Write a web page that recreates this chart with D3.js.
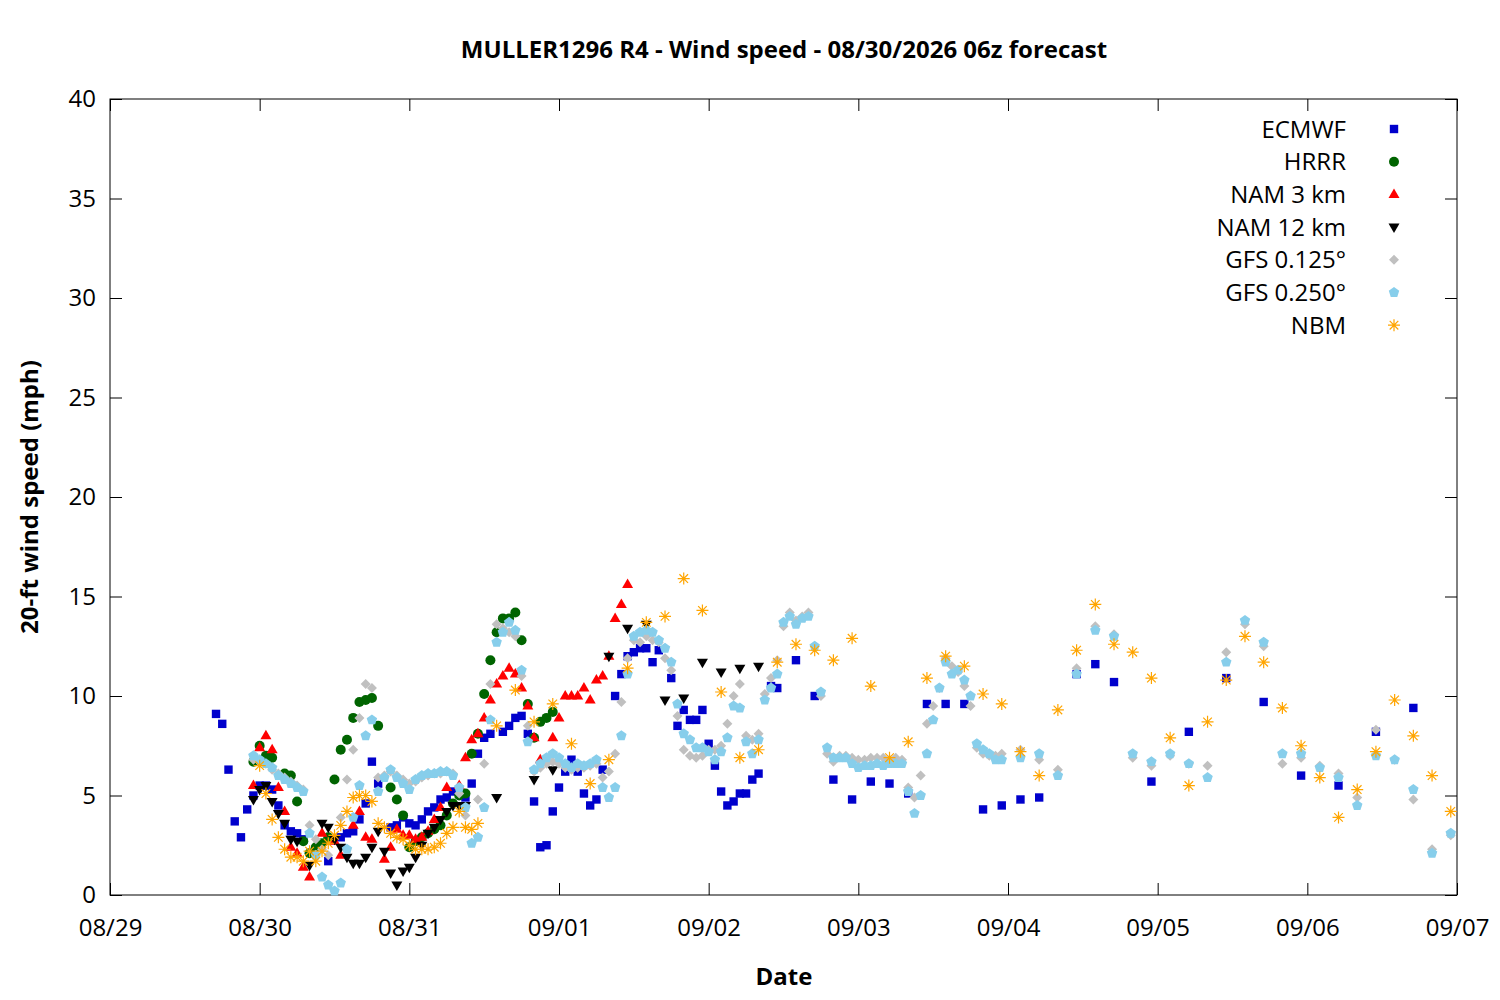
<!DOCTYPE html>
<html>
<head>
<meta charset="utf-8">
<script src="https://cdn.jsdelivr.net/npm/d3@7"></script>
<style>
  body { margin: 0; background: #fff; }
  text { font-family: "Open Sans", "Noto Sans", sans-serif; fill: #000; }
</style>
</head>
<body>
<div id="canvas"></div>
<script>
// hours after 08/29 00:00, wind speed in mph
const ecmwf = [[17,9.1],[18,8.6],[19,6.3],[20,3.7],[21,2.9],[22,4.3],[23,5.0],[24,5.5],[25,5.5],[26,5.3],[27,4.5],[28,3.5],[29,3.2],[30,3.1],[31,2.8],[35,1.7],[37,2.9],[38,3.1],[39,3.2],[40,3.8],[41,4.6],[42,6.7],[43,5.6],[45,3.4],[46,3.5],[47,3.9],[48,3.6],[49,3.5],[50,3.8],[51,4.2],[52,4.4],[53,4.8],[54,4.9],[55,5.2],[56,5.2],[57,4.9],[58,5.6],[59,7.1],[60,7.9],[61,8.1],[63,8.2],[64,8.5],[65,8.9],[66,9.0],[67,8.1],[68,4.7],[69,2.4],[70,2.5],[71,4.2],[72,5.4],[73,6.2],[74,6.8],[75,6.2],[76,5.1],[77,4.5],[78,4.8],[79,6.3],[81,10.0],[82,11.1],[83,12.0],[84,12.2],[85,12.4],[86,12.4],[87,11.7],[88,12.3],[90,10.9],[91,8.5],[92,9.3],[93,8.8],[94,8.8],[95,9.3],[96,7.6],[97,6.5],[98,5.2],[99,4.5],[100,4.7],[101,5.1],[102,5.1],[103,5.8],[104,6.1],[106,10.5],[107,10.4],[110,11.8],[113,10.0],[116,5.8],[119,4.8],[122,5.7],[125,5.6],[128,5.1],[131,9.6],[134,9.6],[137,9.6],[140,4.3],[143,4.5],[146,4.8],[149,4.9],[155,11.1],[158,11.6],[161,10.7],[167,5.7],[173,8.2],[179,10.9],[185,9.7],[191,6.0],[197,5.5],[203,8.2],[209,9.4]];

const hrrr = [[23,6.7],[24,7.5],[25,7.0],[26,6.9],[28,6.1],[29,6.0],[30,4.7],[31,2.7],[32,2.1],[33,2.4],[34,2.6],[35,2.9],[36,5.8],[37,7.3],[38,7.8],[39,8.9],[40,9.7],[41,9.8],[42,9.9],[43,8.5],[45,5.4],[46,4.8],[47,4.0],[48,2.4],[49,2.7],[50,2.9],[51,3.1],[52,3.3],[53,3.5],[54,4.0],[55,4.6],[56,5.0],[57,5.1],[58,7.1],[59,8.1],[60,10.1],[61,11.8],[62,13.2],[63,13.9],[64,13.9],[65,14.2],[66,12.8],[67,9.6],[68,7.9],[69,8.7],[70,8.9],[71,9.2]];

const nam3 = [[23,5.5],[24,7.4],[25,8.0],[26,7.3],[27,5.4],[28,4.2],[29,2.4],[30,2.1],[31,1.4],[32,0.9],[34,3.1],[36,2.7],[37,2.0],[39,3.5],[40,4.2],[41,2.9],[42,2.8],[44,1.8],[45,2.4],[46,3.3],[47,3.0],[48,3.0],[49,2.8],[50,2.9],[51,3.2],[52,3.8],[53,4.4],[54,5.4],[56,5.5],[57,6.9],[58,7.8],[59,8.1],[60,8.9],[61,9.8],[62,10.6],[63,11.0],[64,11.4],[65,11.1],[66,10.4],[67,9.5],[68,7.9],[69,6.8],[71,7.9],[72,8.9],[73,10.0],[74,10.0],[75,10.0],[76,10.4],[77,9.8],[78,10.8],[79,11.0],[80,12.0],[81,13.9],[82,14.6],[83,15.6]];

const nam12 = [[23,4.8],[24,5.3],[25,5.5],[26,4.7],[27,4.1],[28,3.6],[29,2.8],[30,2.7],[32,1.5],[34,3.6],[35,3.4],[36,2.8],[37,2.4],[38,1.9],[39,1.6],[40,1.6],[41,1.9],[42,2.4],[43,3.2],[44,2.2],[45,1.1],[46,0.5],[47,1.2],[48,1.4],[49,1.9],[50,2.5],[51,3.1],[52,3.4],[53,3.8],[54,4.2],[55,4.5],[56,4.5],[57,4.5],[62,4.9],[68,5.8],[71,6.3],[80,12.0],[83,13.4],[86,13.6],[89,9.8],[92,9.9],[95,11.7],[98,11.2],[101,11.4],[104,11.5]];

const gfs0125 = [[23,6.8],[24,6.7],[25,6.6],[26,6.3],[27,6.1],[28,5.9],[29,5.7],[30,5.5],[31,5.3],[32,3.5],[33,2.8],[34,2.3],[35,2.0],[37,3.9],[38,5.8],[39,7.3],[40,8.9],[41,10.6],[42,10.4],[43,5.9],[44,6.0],[45,6.2],[46,6.0],[47,5.8],[48,5.6],[49,5.7],[50,5.9],[51,6.0],[52,6.1],[53,6.1],[54,6.2],[55,6.1],[56,5.1],[57,4.0],[59,4.8],[60,6.6],[61,10.6],[62,13.6],[63,13.4],[64,13.2],[65,13.0],[66,11.0],[67,8.5],[68,6.2],[69,6.4],[70,6.6],[71,6.7],[72,6.6],[73,6.4],[74,6.3],[75,6.4],[76,6.4],[77,6.5],[78,6.6],[79,5.9],[80,6.2],[81,7.1],[82,9.7],[83,11.9],[84,12.8],[85,12.7],[86,13.0],[87,12.8],[88,12.7],[89,11.9],[90,11.3],[91,9.0],[92,7.3],[93,7.0],[94,6.9],[95,7.0],[96,7.3],[97,7.3],[98,7.5],[99,8.6],[100,10.0],[101,10.6],[102,8.0],[103,7.8],[104,8.1],[105,10.1],[106,10.9],[107,11.8],[108,13.5],[109,14.2],[110,13.8],[111,14.0],[112,14.2],[113,12.5],[114,10.0],[115,7.1],[116,6.7],[117,7.0],[118,7.0],[119,6.9],[120,6.8],[121,6.8],[122,6.9],[123,6.9],[124,6.9],[125,6.8],[126,6.9],[127,6.8],[128,5.4],[129,4.9],[130,6.0],[131,8.6],[132,9.5],[133,10.4],[134,11.9],[135,11.5],[136,11.2],[137,10.5],[138,9.5],[139,7.4],[140,7.1],[141,7.0],[142,7.0],[143,7.1],[146,7.3],[149,6.8],[152,6.3],[155,11.4],[158,13.5],[161,13.1],[164,6.9],[167,6.5],[170,7.0],[173,6.6],[176,6.5],[179,12.2],[182,13.6],[185,12.5],[188,6.6],[191,6.9],[194,6.5],[197,6.1],[200,4.9],[203,8.3],[206,6.8],[209,4.8],[212,2.3],[215,3.0]];

const gfs0250 = [[23,7.0],[24,6.8],[25,6.6],[26,6.4],[27,6.0],[28,5.8],[29,5.6],[30,5.4],[31,5.2],[32,3.1],[33,2.0],[34,0.9],[35,0.5],[36,0.2],[37,0.6],[38,2.3],[39,3.9],[40,5.5],[41,8.0],[42,8.8],[43,5.2],[44,5.9],[45,6.3],[46,5.9],[47,5.6],[48,5.3],[49,5.8],[50,6.0],[51,6.1],[52,6.1],[53,6.2],[54,6.2],[55,6.0],[56,5.4],[57,4.4],[58,2.6],[59,2.9],[60,4.4],[61,8.8],[62,12.7],[63,13.2],[64,13.7],[65,13.3],[66,11.3],[67,7.7],[68,6.3],[69,6.6],[70,6.9],[71,7.1],[72,6.9],[73,6.6],[74,6.4],[75,6.6],[76,6.5],[77,6.6],[78,6.8],[79,5.4],[80,4.9],[81,5.4],[82,8.0],[83,11.1],[84,13.0],[85,13.2],[86,13.3],[87,13.2],[88,12.8],[89,12.4],[90,11.7],[91,9.6],[92,8.1],[93,7.8],[94,7.4],[95,7.4],[96,7.2],[97,6.8],[98,7.2],[99,7.9],[100,9.5],[101,9.4],[102,7.7],[103,7.1],[104,7.8],[105,9.8],[106,10.4],[107,11.1],[108,13.7],[109,14.0],[110,13.6],[111,13.9],[112,14.0],[113,12.5],[114,10.2],[115,7.4],[116,6.9],[117,6.9],[118,6.9],[119,6.6],[120,6.4],[121,6.5],[122,6.5],[123,6.6],[124,6.5],[125,6.6],[126,6.6],[127,6.6],[128,5.2],[129,4.1],[130,5.0],[131,7.1],[132,8.8],[133,10.4],[134,11.7],[135,11.1],[136,11.3],[137,10.8],[138,10.0],[139,7.6],[140,7.3],[141,7.1],[142,6.8],[143,6.8],[146,6.9],[149,7.1],[152,6.0],[155,11.1],[158,13.3],[161,13.0],[164,7.1],[167,6.7],[170,7.1],[173,6.6],[176,5.9],[179,11.7],[182,13.8],[185,12.7],[188,7.1],[191,7.1],[194,6.4],[197,5.9],[200,4.5],[203,7.0],[206,6.8],[209,5.3],[212,2.1],[215,3.1]];

const nbm = [[24,6.5],[25,5.1],[26,3.8],[27,2.9],[28,2.3],[29,1.9],[30,1.9],[31,1.7],[32,2.2],[33,1.7],[34,2.2],[35,2.6],[36,3.0],[37,3.5],[38,4.2],[39,4.9],[40,5.0],[41,5.0],[42,4.7],[43,3.6],[44,3.4],[45,3.1],[46,2.9],[47,2.8],[48,2.5],[49,2.3],[50,2.3],[51,2.3],[52,2.4],[53,2.6],[54,3.1],[55,3.4],[56,4.2],[57,3.4],[58,3.3],[59,3.6],[62,8.5],[65,10.3],[68,8.7],[71,9.6],[74,7.6],[77,5.6],[80,6.8],[83,11.4],[86,13.7],[89,14.0],[92,15.9],[95,14.3],[98,10.2],[101,6.9],[104,7.3],[107,11.7],[110,12.6],[113,12.3],[116,11.8],[119,12.9],[122,10.5],[125,6.9],[128,7.7],[131,10.9],[134,12.0],[137,11.5],[140,10.1],[143,9.6],[146,7.2],[149,6.0],[152,9.3],[155,12.3],[158,14.6],[161,12.6],[164,12.2],[167,10.9],[170,7.9],[173,5.5],[176,8.7],[179,10.8],[182,13.0],[185,11.7],[188,9.4],[191,7.5],[194,5.9],[197,3.9],[200,5.3],[203,7.2],[206,9.8],[209,8.0],[212,6.0],[215,4.2]];

const models = ["ECMWF", "HRRR", "NAM 3 km", "NAM 12 km", "GFS 0.125°", "GFS 0.250°", "NBM"];
const modelData = [ecmwf, hrrr, nam3, nam12, gfs0125, gfs0250, nbm];
const dateTicks = ["08/29", "08/30", "08/31", "09/01", "09/02", "09/03", "09/04", "09/05", "09/06", "09/07"];
const yTicks = [0, 5, 10, 15, 20, 25, 30, 35, 40];

const colors = ["#0000cc", "#006400", "#ff0000", "#000000", "#c0c0c0", "#87ceeb", "#ffa500"];

// marker shapes, gnuplot style
function pentagon(r) {
  let p = "";
  for (let i = 0; i < 5; i++) {
    const a = -Math.PI / 2 + i * 2 * Math.PI / 5;
    p += (i ? "L" : "M") + (r * Math.cos(a)).toFixed(2) + "," + (r * Math.sin(a)).toFixed(2);
  }
  return p + "Z";
}
const shapes = [
  "M-4.2,-4.2H4.2V4.2H-4.2Z",
  "M5,0A5,5 0 1,1 -5,0A5,5 0 1,1 5,0Z",
  "M0,-6L5.5,3.5H-5.5Z",
  "M0,6L5.5,-3.5H-5.5Z",
  "M0,-5L5,0L0,5L-5,0Z",
  pentagon(5.5),
  "M-6,0H6M0,-6V6M-4.3,-4.3L4.3,4.3M4.3,-4.3L-4.3,4.3"
];

const fontSize = "24px";
const width = 1500;
const height = 1000;
const margin = { top: 99, left: 110, bottom: 105, right: 43 };
const iwidth = width - margin.left - margin.right;
const iheight = height - margin.top - margin.bottom;

const svg = d3.select("#canvas").append("svg")
  .attr("width", width)
  .attr("height", height);

const g = svg.append("g")
  .attr("transform", `translate(${margin.left},${margin.top})`);

const x = d3.scaleLinear().domain([0, 216]).range([0, iwidth]);
const y = d3.scaleLinear().domain([0, 40]).range([iheight, 0]);

const hourTicks = dateTicks.map((d, i) => i * 24);

// axes with inward ticks, mirrored on top and right
g.append("g")
  .attr("transform", `translate(0,${iheight})`)
  .call(d3.axisBottom(x).tickValues(hourTicks).tickSizeInner(-12).tickSizeOuter(0).tickPadding(24)
    .tickFormat((d, i) => dateTicks[i]))
  .call((a) => a.selectAll("text").style("font-size", fontSize));

g.append("g")
  .call(d3.axisTop(x).tickValues(hourTicks).tickSizeInner(-12).tickSizeOuter(0).tickFormat(""));

g.append("g")
  .call(d3.axisLeft(y).tickValues(yTicks).tickSizeInner(-12).tickSizeOuter(0).tickPadding(14))
  .call((a) => a.selectAll("text").style("font-size", fontSize));

g.append("g")
  .attr("transform", `translate(${iwidth},0)`)
  .call(d3.axisRight(y).tickValues(yTicks).tickSizeInner(-12).tickSizeOuter(0).tickFormat(""));

g.selectAll(".domain").remove();
g.selectAll(".tick line").attr("stroke", "#000");

g.append("rect")
  .attr("width", iwidth)
  .attr("height", iheight)
  .attr("fill", "none")
  .attr("stroke", "#000")
  .attr("stroke-width", 1);

// points, drawn in legend order so NBM ends on top
modelData.forEach((data, k) => {
  const isStar = k === 6;
  g.append("g")
    .selectAll("path")
    .data(data)
    .enter()
    .append("path")
    .attr("transform", (d) => `translate(${x(d[0])},${y(d[1])})`)
    .attr("d", shapes[k])
    .attr("fill", isStar ? "none" : colors[k])
    .attr("stroke", isStar ? colors[k] : "none")
    .attr("stroke-width", 1.2);
});

// legend
const legend = svg.append("g");
models.forEach((name, k) => {
  const cy = 129 + k * 32.7;
  legend.append("text")
    .attr("x", 1346)
    .attr("y", cy + 8.5)
    .attr("text-anchor", "end")
    .style("font-size", fontSize)
    .text(name);
  legend.append("path")
    .attr("transform", `translate(1394,${cy})`)
    .attr("d", shapes[k])
    .attr("fill", k === 6 ? "none" : colors[k])
    .attr("stroke", k === 6 ? colors[k] : "none")
    .attr("stroke-width", 1.2);
});

// titles
svg.append("text")
  .attr("x", 784)
  .attr("y", 58)
  .attr("text-anchor", "middle")
  .style("font-size", fontSize)
  .style("font-weight", "bold")
  .text("MULLER1296 R4 - Wind speed - 08/30/2026 06z forecast");

svg.append("text")
  .attr("x", 784)
  .attr("y", 985)
  .attr("text-anchor", "middle")
  .style("font-size", fontSize)
  .style("font-weight", "bold")
  .text("Date");

svg.append("text")
  .attr("transform", "translate(38,497) rotate(-90)")
  .attr("text-anchor", "middle")
  .style("font-size", fontSize)
  .style("font-weight", "bold")
  .text("20-ft wind speed (mph)");
</script>
</body>
</html>
